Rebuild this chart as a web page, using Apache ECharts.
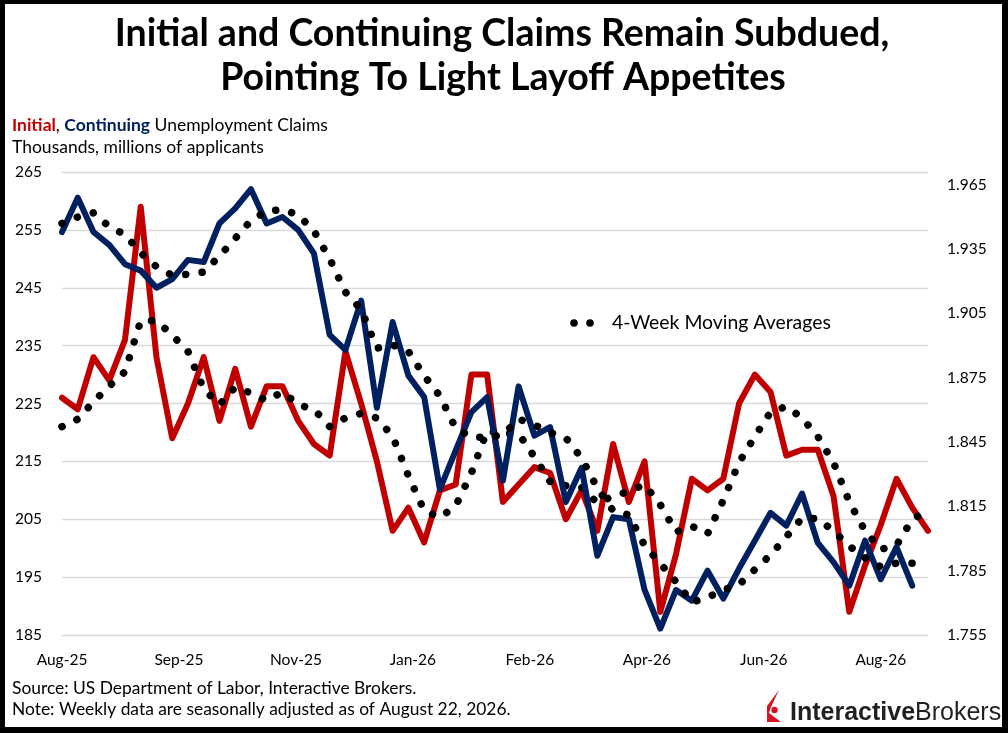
<!DOCTYPE html>
<html>
<head>
<meta charset="utf-8">
<script src="https://cdn.jsdelivr.net/npm/echarts@6/dist/echarts.min.js"></script>
<style>
  html, body { margin: 0; padding: 0; background: #fff; }
  #chart { width: 1008px; height: 733px; position: relative; }
  #frame {
    position: absolute; left: 0; top: 0; width: 1008px; height: 733px;
    box-sizing: border-box; pointer-events: none;
    border-style: solid; border-color: #000; border-width: 4px 6px 6px 5px;
  }
</style>
</head>
<body>
<div id="chart"></div>
<div id="frame"></div>
<script>
// weekly data, first week ending Aug 2 2025 (x axis counts days from it)
const xTickLabels = ['Aug-25', 'Sep-25', 'Nov-25', 'Jan-26', 'Feb-26', 'Apr-26', 'Jun-26', 'Aug-26'];
const xTickStep = 52; // days between tick labels

// initial claims, thousands
const initialClaims = [226, 224, 233, 229, 236, 259, 233, 219, 225, 233,
  222, 231, 221, 228, 228, 222, 218, 216, 234, 225,
  215, 203, 207, 201, 210, 211, 230, 230, 208, 211,
  214, 213, 205, 210, 203, 218, 208, 215, 189, 199,
  212, 210, 212, 225, 230, 227, 216, 217, 217, 209,
  189, 197, 204, 212, 207, 203];
const initialMA = [221, 222.3, 225.3, 228, 230.5, 239.3, 239.3, 236.8, 234, 227.5,
  224.8, 227.8, 226.8, 225.5, 227, 224.8, 224, 221, 222.5, 223.3,
  222.5, 219.3, 212.5, 206.5, 205.3, 207.3, 213, 220.3, 219.8, 219.8,
  215.8, 211.5, 210.8, 210.5, 207.8, 209, 209.8, 211, 207.5, 202.8,
  203.8, 202.5, 208.3, 214.8, 219.3, 223.5, 224.5, 222.5, 219.3, 214.8,
  208, 203, 199.8, 200.5, 205, 206.5];

// continuing claims, millions
const continuingClaims = [1.943, 1.959, 1.943, 1.937, 1.928, 1.925, 1.917, 1.921, 1.930, 1.929,
  1.947, 1.954, 1.963, 1.947, 1.950, 1.944, 1.933, 1.895, 1.888, 1.911,
  1.861, 1.901, 1.876, 1.866, 1.823, 1.841, 1.859, 1.866, 1.827, 1.871,
  1.848, 1.852, 1.817, 1.833, 1.792, 1.810, 1.809, 1.776, 1.758, 1.776,
  1.771, 1.785, 1.772, 1.786, 1.799, 1.812, 1.806, 1.821, 1.798, 1.789,
  1.778, 1.799, 1.781, 1.796, 1.778];
const continuingMA = [1.947, 1.950, 1.952, 1.9455, 1.9418, 1.9333, 1.9268, 1.9228, 1.9233, 1.9243,
  1.9318, 1.940, 1.9483, 1.9528, 1.9535, 1.951, 1.9435, 1.9305, 1.915, 1.9068,
  1.8888, 1.8903, 1.8873, 1.876, 1.8665, 1.8515, 1.8473, 1.8473, 1.8483, 1.8558,
  1.853, 1.8495, 1.847, 1.8375, 1.8235, 1.813, 1.811, 1.7968, 1.7883, 1.7798,
  1.7703, 1.7725, 1.776, 1.7785, 1.7855, 1.7923, 1.8008, 1.8095, 1.8093, 1.8035,
  1.7965, 1.791, 1.7868, 1.7885, 1.7885];

const RED = '#C00000';
const NAVY = '#002060';
const FONT = 'Lato';

const weekly = (arr) => arr.map((v, i) => [i * 7, v]);

const lineSeries = (name, data, axis, color, z) => ({
  name, type: 'line', yAxisIndex: axis, data: weekly(data),
  showSymbol: false, symbol: 'none', silent: true, z,
  lineStyle: { color, width: 6, join: 'round', cap: 'round' }
});
const dotSeries = (name, data, axis, z) => ({
  name, type: 'line', yAxisIndex: axis, data: weekly(data),
  showSymbol: false, symbol: 'none', silent: true, z,
  lineStyle: { color: '#000', width: 7.5, type: [0.1, 16.4], cap: 'round' }
});

const chart = echarts.init(document.getElementById('chart'));
chart.setOption({
  animation: false,
  backgroundColor: '#fff',
  grid: { left: 62, right: 80, top: 172, bottom: 98 },
  xAxis: {
    type: 'value', min: 0, max: 385, interval: xTickStep,
    axisLine: { show: false }, axisTick: { show: false }, splitLine: { show: false },
    axisLabel: {
      margin: 17, color: '#000', fontSize: 15.5, fontFamily: FONT,
      formatter: (v) => (v % xTickStep === 0 ? xTickLabels[v / xTickStep] || '' : '')
    }
  },
  yAxis: [
    {
      type: 'value', min: 185, max: 265, interval: 10,
      axisLine: { show: false }, axisTick: { show: false },
      splitLine: { lineStyle: { color: '#D9D9D9', width: 1.3 } },
      axisLabel: { align: 'left', margin: 47, color: '#000', fontSize: 15.5, fontFamily: FONT }
    },
    {
      type: 'value', position: 'right', min: 1.755, max: 1.971, interval: 0.03,
      axisLine: { show: false }, axisTick: { show: false }, splitLine: { show: false },
      axisLabel: {
        align: 'left', margin: 19, color: '#000', fontSize: 15.5, fontFamily: FONT,
        formatter: (v) => (v > 1.966 ? '' : v.toFixed(3))
      }
    }
  ],
  series: [
    lineSeries('Initial', initialClaims, 0, RED, 2),
    dotSeries('Initial 4-Week Moving Average', initialMA, 0, 3),
    lineSeries('Continuing', continuingClaims, 1, NAVY, 4),
    dotSeries('Continuing 4-Week Moving Average', continuingMA, 1, 5)
  ],
  graphic: [
    {
      type: 'text', x: 502, y: 34,
      style: {
        text: 'Initial and Continuing Claims Remain Subdued,', fill: '#000',
        font: 'bold 37.5px Lato', align: 'center', verticalAlign: 'middle'
      }
    },
    {
      type: 'text', x: 503, y: 78,
      style: {
        text: 'Pointing To Light Layoff Appetites', fill: '#000',
        font: 'bold 37.5px Lato', align: 'center', verticalAlign: 'middle'
      }
    },
    {
      type: 'text', x: 12, y: 125,
      style: {
        text: '{r|Initial}, {b|Continuing} Unemployment Claims',
        fill: '#000', fontSize: 17.5, fontFamily: FONT, verticalAlign: 'middle',
        rich: {
          r: { fill: RED, color: RED, fontWeight: 'bold', fontSize: 17.5, fontFamily: FONT },
          b: { fill: NAVY, color: NAVY, fontWeight: 'bold', fontSize: 17.5, fontFamily: FONT }
        }
      }
    },
    {
      type: 'text', x: 12, y: 147,
      style: { text: 'Thousands, millions of applicants', fill: '#000', font: '17.5px Lato', verticalAlign: 'middle' }
    },
    // legend for the dotted averages
    { type: 'circle', shape: { cx: 574, cy: 323, r: 3.8 }, style: { fill: '#000' } },
    { type: 'circle', shape: { cx: 590, cy: 323, r: 3.8 }, style: { fill: '#000' } },
    {
      type: 'text', x: 612, y: 323,
      style: { text: '4-Week Moving Averages', fill: '#000', font: '19.4px Lato', verticalAlign: 'middle' }
    },
    {
      type: 'text', x: 12, y: 688,
      style: { text: 'Source: US Department of Labor, Interactive Brokers.', fill: '#000', font: '17.4px Lato', verticalAlign: 'middle' }
    },
    {
      type: 'text', x: 12, y: 709,
      style: { text: 'Note: Weekly data are seasonally adjusted as of August 22, 2026.', fill: '#000', font: '17.4px Lato', verticalAlign: 'middle' }
    },
    // logo
    {
      type: 'polygon',
      shape: { points: [[767, 722], [767, 706], [779, 690], [771, 707], [769, 713], [781, 722]] },
      style: { fill: '#D81222' }
    },
    { type: 'circle', shape: { cx: 774.5, cy: 710, r: 3.2 }, style: { fill: '#D81222' } },
    {
      type: 'text', x: 790, y: 713,
      style: {
        text: '{a|Interactive}{b|Brokers}', fill: '#231F20', verticalAlign: 'middle',
        rich: {
          a: { fill: '#231F20', color: '#231F20', fontWeight: 'bold', fontSize: 25, fontFamily: 'Liberation Sans' },
          b: { fill: '#231F20', color: '#231F20', fontSize: 25, fontFamily: 'Liberation Sans' }
        }
      }
    }
  ]
});
</script>
</body>
</html>
